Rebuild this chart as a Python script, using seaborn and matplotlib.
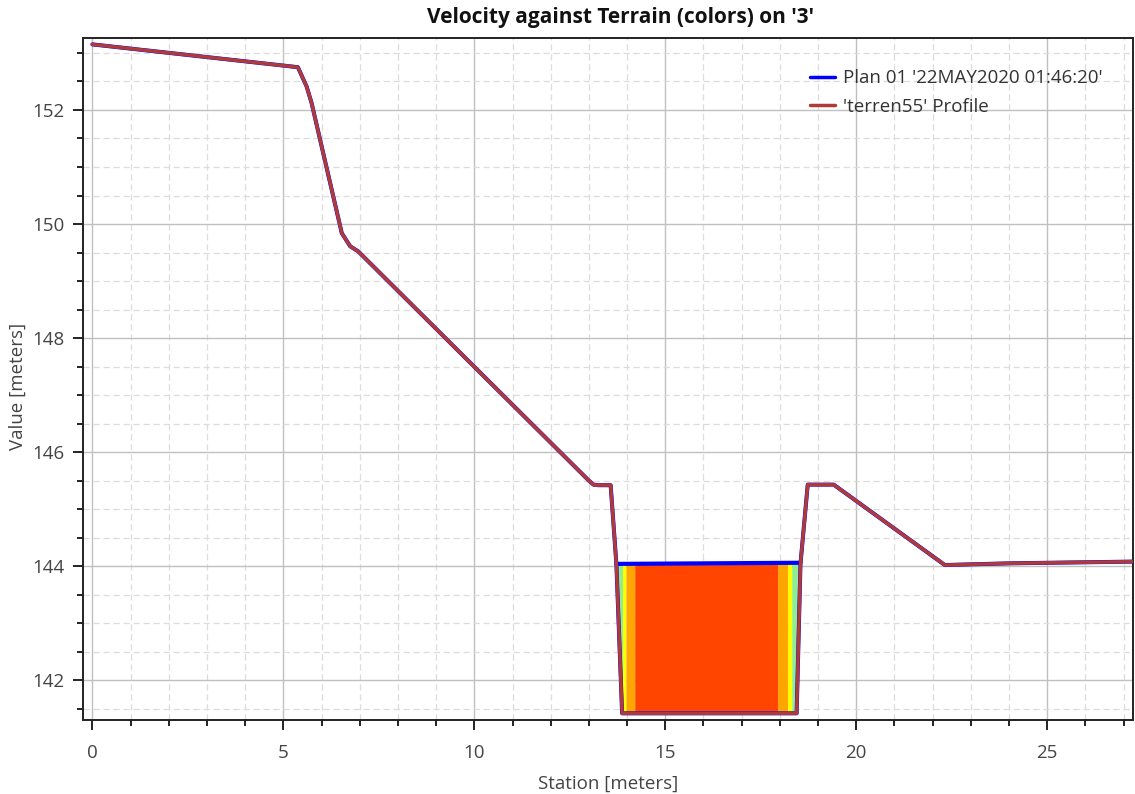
import numpy as np
import pandas as pd
import matplotlib
matplotlib.use("Agg")
import matplotlib.pyplot as plt
from matplotlib.ticker import MultipleLocator
from matplotlib.lines import Line2D
import seaborn as sns

# Cross-section terrain (station, elevation) in meters
terrain_station = [0.0, 5.38, 5.61, 5.74, 6.53, 6.75, 6.96, 13.0, 13.12, 13.25,
                   13.57, 13.72, 13.87, 18.44, 18.54, 18.73, 19.41, 22.32, 24.0, 27.23]
terrain_elev = [153.15, 152.75, 152.41, 152.12, 149.84, 149.61, 149.52, 145.50, 145.43, 145.42,
                145.42, 144.04, 141.42, 141.42, 144.04, 145.43, 145.43, 144.02, 144.05, 144.08]

# Water surface across the wetted channel
ws_station = [13.72, 18.54]
ws_elev = [144.04, 144.06]

# Velocity colour bands across the wetted width (edges in station, one colour per band)
band_edges = [13.72, 13.88, 13.97, 14.20, 17.94, 18.20, 18.31, 18.46, 18.54]
band_colors = ["#90EE90", "#FFFF00", "#FFA500", "#FF4500", "#FFA500", "#FFFF00", "#90EE90", "#90EE90"]

plan_label = "Plan 01 '22MAY2020 01:46:20'"
terrain_label = "'terren55' Profile"

sns.set_theme(style="white")
plt.rcParams["font.family"] = ["Open Sans", "DejaVu Sans"]

fig = plt.figure(figsize=(11.35, 7.94), dpi=100)
ax = fig.add_axes([0.073, 0.093, 0.925, 0.859])

terrain = pd.DataFrame({"station": terrain_station, "elev": terrain_elev})
water = pd.DataFrame({"station": ws_station, "elev": ws_elev})

# Velocity bands: filled between channel bed and water surface
for x0, x1, c in zip(band_edges[:-1], band_edges[1:], band_colors):
    xs = np.linspace(x0, x1, 30)
    bed = np.interp(xs, terrain_station, terrain_elev)
    top = np.interp(xs, ws_station, ws_elev)
    ax.fill_between(xs, bed, top, color=c, linewidth=0, zorder=2)

# Plan results (blue): water surface plus wetted outline along the ground
sns.lineplot(data=terrain, x="station", y="elev", sort=False, estimator=None,
             color="#0000FF", linewidth=2.9, ax=ax, zorder=3)
sns.lineplot(data=water, x="station", y="elev", sort=False, estimator=None,
             color="#0000FF", linewidth=3.0, ax=ax, zorder=3)
# Terrain profile (red) on top
sns.lineplot(data=terrain, x="station", y="elev", sort=False, estimator=None,
             color="#B03A36", linewidth=2.5, ax=ax, zorder=4)

ax.set_xlim(-0.25, 27.24)
ax.set_ylim(141.30, 153.26)
ax.xaxis.set_major_locator(MultipleLocator(5))
ax.xaxis.set_minor_locator(MultipleLocator(1))
ax.yaxis.set_major_locator(MultipleLocator(2))
ax.yaxis.set_minor_locator(MultipleLocator(0.5))

ax.grid(which="major", color="#C0C0C0", linestyle="-", linewidth=1.0, zorder=0)
ax.grid(which="minor", color="#DCDCDC", linestyle=(0, (5, 3)), linewidth=0.9, zorder=0)
ax.set_axisbelow(True)

ax.tick_params(which="major", direction="out", length=7.5, width=1.4, color="#222222",
               labelsize=13.5, labelcolor="#444444", left=True, bottom=True, pad=6)
ax.tick_params(which="minor", direction="out", length=4.5, width=1.4, color="#222222",
               left=True, bottom=True)
ax.tick_params(axis="x", which="major", pad=10)
for side in ["left", "bottom", "top", "right"]:
    ax.spines[side].set_color("#222222")
    ax.spines[side].set_linewidth(1.4)

ax.set_xlabel("Station [meters]", fontsize=13.5, color="#444444", labelpad=9)
ax.set_ylabel("Value [meters]", fontsize=13.5, color="#444444", labelpad=4, y=0.49)
ax.set_title("Velocity against Terrain (colors) on '3'", fontsize=15, fontweight="bold",
             color="#111111", pad=11, x=0.512)

handles = [Line2D([0], [0], color="#0000FF", linewidth=2.5),
           Line2D([0], [0], color="#B03A36", linewidth=2.5)]
ax.legend(handles, [plan_label, terrain_label], loc="upper left",
          bbox_to_anchor=(0.677, 0.979), frameon=False, fontsize=13.5,
          handlelength=1.3, handletextpad=0.45, labelspacing=0.55, labelcolor="#333333")

fig.savefig("out.png", dpi=100)
